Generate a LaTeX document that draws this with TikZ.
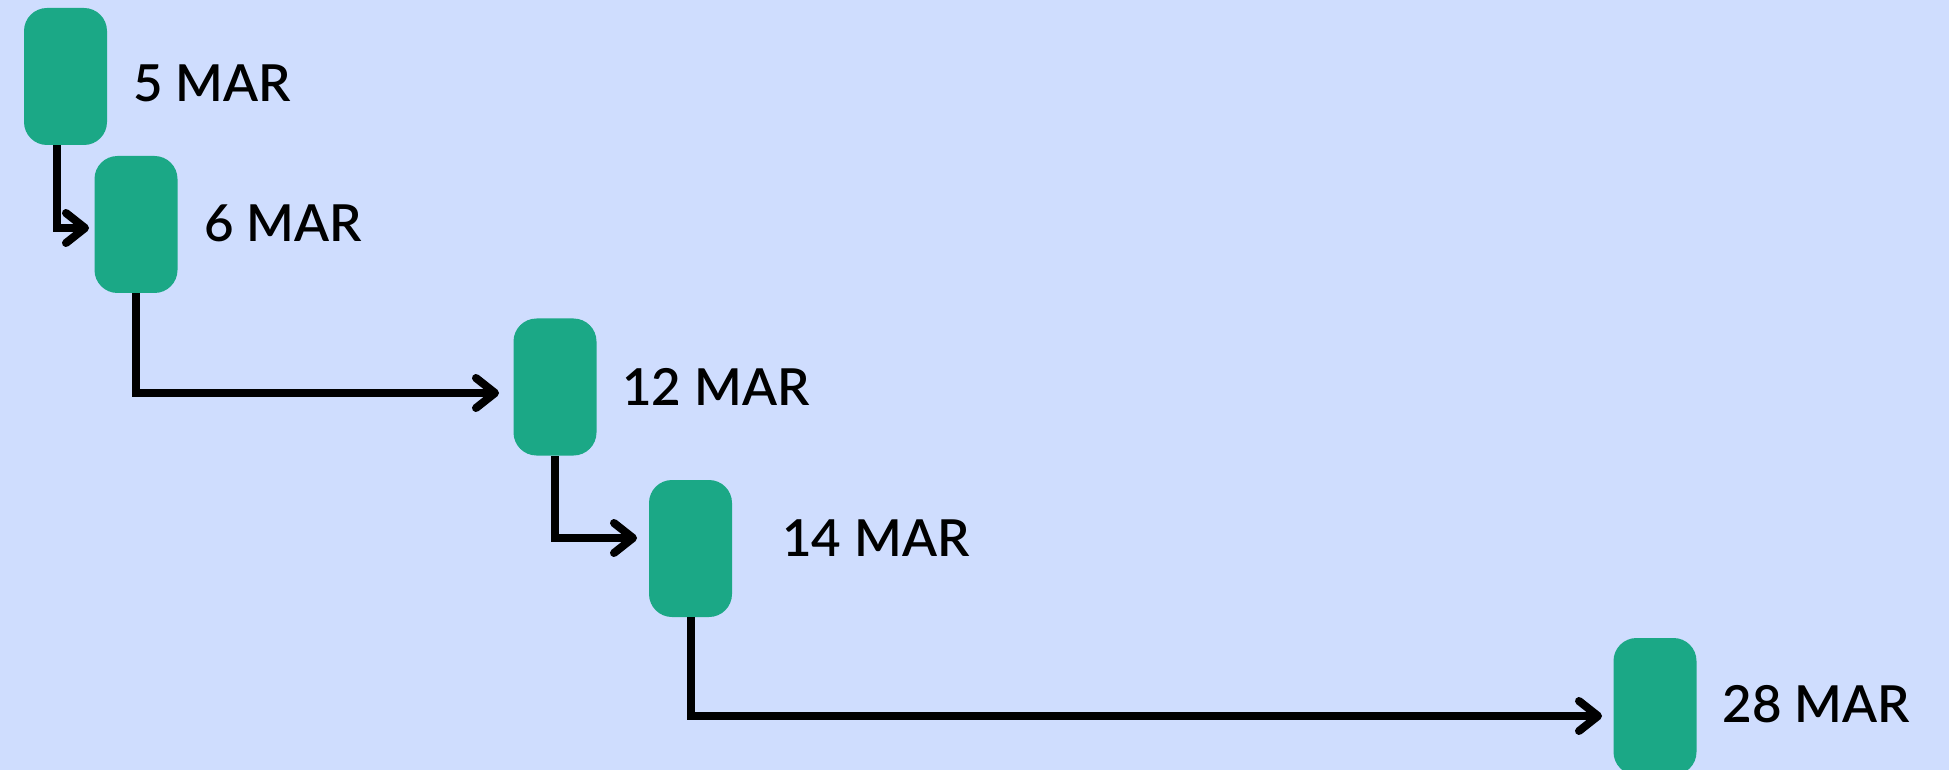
\documentclass[tikz,border=0pt]{standalone}
\usepackage{fontspec}
\setmainfont{Lato}[BoldFont={Lato Semibold}]
\usetikzlibrary{arrows.meta}
\definecolor{bgblue}{RGB}{207,221,254}
\definecolor{boxgreen}{RGB}{27,168,134}
\tikzset{
  datebox/.style={fill=boxgreen, draw=none, rounded corners=11.5pt, minimum width=41.5pt, minimum height=68.5pt, inner sep=0pt},
  lab/.style={anchor=base west, inner sep=0pt, font=\fontsize{25.5pt}{30pt}\selectfont\bfseries, text=black},
  conn/.style={draw=black, line width=4pt, -{Straight Barb[length=9.5pt,width=15pt,round]}}
}
\begin{document}
\begin{tikzpicture}[x=0.5pt,y=-0.5pt]
\useasboundingbox (0,0) rectangle (1949,770);
\clip (0,0) rectangle (1949,770);
\fill[bgblue] (0,0) rectangle (1949,770);

\node[datebox] (b1) at (65.5,76.5) {};
\node[datebox] (b2) at (136,224.5) {};
\node[datebox] (b3) at (555,387) {};
\node[datebox] (b4) at (690.5,548.5) {};
\node[datebox] (b5) at (1655,706.5) {};

\node[lab] (l1) at (133,102) {5 MAR};
\node[lab] (l2) at (204,242) {6 MAR};
\node[lab] (l3) at (622,405) {12 MAR};
\node[lab] (l4) at (782,556) {14 MAR};
\node[lab] (l5) at (1722,722) {28 MAR};

\coordinate (t1) at (89,228);
\coordinate (t2) at (499,393);
\coordinate (t3) at (637,538);
\coordinate (t4) at (1602,716);

\draw[conn] ([xshift=-4.25pt]b1.south) |- (t1);
\draw[conn] (b2.south) |- (t2);
\draw[conn] (b3.south) |- (t3);
\draw[conn] (b4.south) |- (t4);
\end{tikzpicture}
\end{document}
